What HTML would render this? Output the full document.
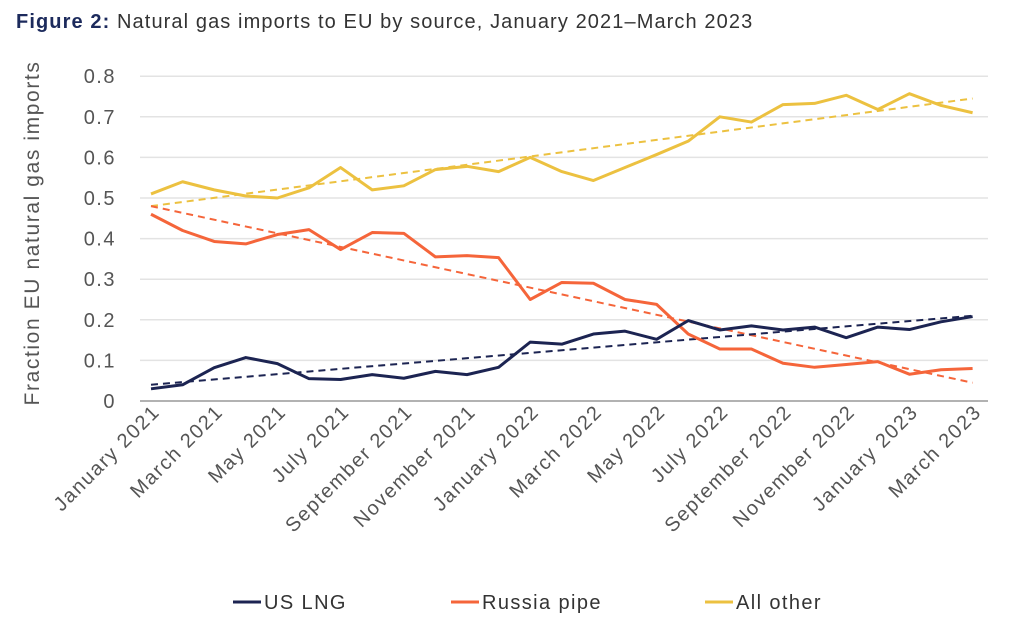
<!DOCTYPE html>
<html><head><meta charset="utf-8"><style>
body{margin:0;background:#fff;width:1024px;height:619px;overflow:hidden;font-family:"Liberation Sans",sans-serif}
</style></head><body>
<svg id="s" width="1024" height="619" xmlns="http://www.w3.org/2000/svg" font-family="Liberation Sans, sans-serif">
<text x="16" y="28" font-size="20" letter-spacing="1.1" fill="#333"><tspan font-weight="bold" fill="#1c2a5c">Figure 2:</tspan> Natural gas imports to EU by source, January 2021–March 2023</text>
<text transform="translate(39,233) rotate(-90)" text-anchor="middle" font-size="21" letter-spacing="1.6" fill="#555">Fraction EU natural gas imports</text>
</svg>
<script>
const s=document.getElementById('s'),NS='http://www.w3.org/2000/svg';
function el(t,a,txt){const e=document.createElementNS(NS,t);for(const k in a)e.setAttribute(k,a[k]);if(txt!=null)e.textContent=txt;s.appendChild(e);return e;}
const y0=401,dy=40.6,x0=151,dx=31.6;
const Y=v=>y0-v*10*dy/1,X=i=>x0+i*dx;
for(let k=0;k<=8;k++){const y=y0-k*dy;el('line',{x1:140,x2:988,y1:y,y2:y,stroke:k?'#e3e3e3':'#999','stroke-width':1.5});
el('text',{x:116,y:y+7,'text-anchor':'end','font-size':20,'letter-spacing':1.5,fill:'#555'},k?(k/10).toFixed(1):'0');}
const months=['January','March','May','July','September','November'];
for(let i=0;i<14;i++){const yr=2021+Math.floor(i/6);const lbl=months[i%6]+' '+yr;const x=X(i*2)+10;
el('text',{transform:`translate(${x},413) rotate(-45)`,'text-anchor':'end','font-size':20,'letter-spacing':1.6,fill:'#555'},lbl);}
const ao=[.51,.54,.52,.505,.50,.525,.575,.52,.53,.57,.578,.565,.60,.565,.543,.575,.607,.64,.70,.687,.73,.733,.753,.718,.757,.728,.71];
const ru=[.46,.42,.393,.387,.41,.422,.373,.415,.413,.355,.358,.353,.25,.292,.29,.25,.238,.165,.128,.128,.093,.083,.09,.097,.066,.077,.08];
const us=[.03,.04,.082,.107,.092,.055,.053,.065,.056,.073,.065,.083,.145,.14,.165,.172,.152,.198,.175,.185,.175,.182,.156,.182,.176,.195,.208];
const C={ao:'#ecc140',ru:'#f5653a',us:'#1c2452'};
function trend(a,b,c){el('line',{x1:X(0),y1:Y(a),x2:X(26),y2:Y(b),stroke:c,'stroke-width':2,'stroke-dasharray':'7,5'});}
trend(.48,.745,C.ao);trend(.48,.045,C.ru);trend(.04,.21,C.us);
function line(d,c){el('polyline',{points:d.map((v,i)=>X(i)+','+Y(v)).join(' '),fill:'none',stroke:c,'stroke-width':3,'stroke-linejoin':'round'});}
line(ao,C.ao);line(ru,C.ru);line(us,C.us);
[[233,'US LNG',C.us],[451,'Russia pipe',C.ru],[705,'All other',C.ao]].forEach(([x,t,c])=>{
el('line',{x1:x,x2:x+28,y1:602,y2:602,stroke:c,'stroke-width':3});
el('text',{x:x+31,y:609,'font-size':20,'letter-spacing':1.4,fill:'#333'},t);});
</script>
</body></html>
